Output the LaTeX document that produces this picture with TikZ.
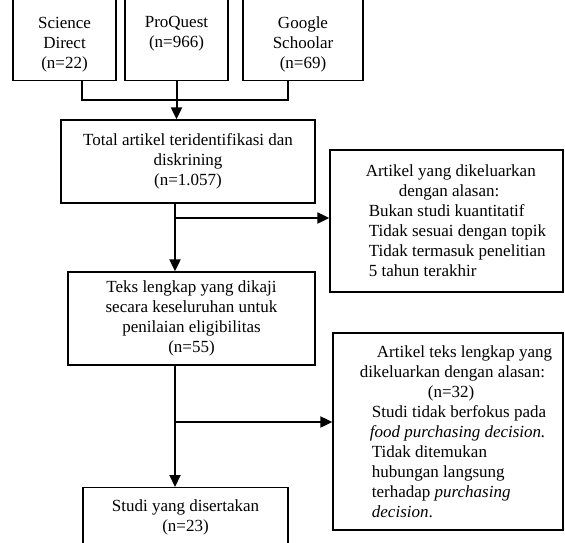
\documentclass[tikz,border=0pt]{standalone}
\usepackage{fontspec}
\setmainfont{Liberation Serif}
\usetikzlibrary{arrows.meta}

\tikzset{
  box/.style={draw, line width=1.3pt, align=center, inner sep=7pt},
  srcbox/.style={box, anchor=south, text height=100pt},
  exbox/.style={box, align=left},
  link/.style={line width=2pt},
  arrow/.style={link, -{Triangle[length=12pt,width=11pt]}},
}

\begin{document}
\begin{tikzpicture}[x=1pt, y=-1pt, font=\fontsize{17}{20}\selectfont]
  \useasboundingbox (0,0) rectangle (565,542);
  \clip (0,0) rectangle (565,542);
  % sources
  \node[srcbox, minimum width=103pt, text depth=5pt] (sd) at (64.5,81) {Science\\Direct\\(n=22)};
  \node[srcbox, minimum width=103pt, text depth=25.5pt] (pq) at (176.5,81) {ProQuest\\(n=966)};
  \node[srcbox, minimum width=120pt, text depth=5pt] (gs) at (303,81) {Google\\Schoolar\\(n=69)};
  % screening
  \node[box, minimum width=254pt, minimum height=83pt] (total) at (188,161.5) {Total artikel teridentifikasi dan\\diskrining\\(n=1.057)};
  \node[exbox, minimum width=233pt, minimum height=142pt] (excl1) at (446.5,221) {%
    \hspace*{19pt}Artikel yang dikeluarkan\\
    \hspace*{52pt}dengan alasan:\\
    \hspace*{22pt}Bukan studi kuantitatif\\
    \hspace*{22pt}Tidak sesuai dengan topik\\
    \hspace*{22pt}Tidak termasuk penelitian\\
    \hspace*{22pt}5 tahun terakhir};
  % eligibility
  \node[box, minimum width=247pt, minimum height=93pt] (teks) at (191.5,318.5) {Teks lengkap yang dikaji\\secara keseluruhan untuk\\penilaian eligibilitas\\(n=55)};
  \node[exbox, minimum width=230pt, minimum height=197pt] (excl2) at (448,431.5) {%
    \hspace*{33pt}Artikel teks lengkap yang\\
    \hspace*{16pt}dikeluarkan dengan alasan:\\
    \hspace*{84pt}(n=32)\\
    \hspace*{28pt}Studi tidak berfokus pada\\
    \hspace*{26pt}\textit{food purchasing decision.}\\
    \hspace*{28pt}Tidak ditemukan\\
    \hspace*{28pt}hubungan langsung\\
    \hspace*{28pt}terhadap \textit{purchasing}\\
    \hspace*{28pt}\textit{decision}.};
  % included
  \node[box, anchor=north, minimum width=205pt, text height=37pt, text depth=60pt] (studi) at (185.5,487) {Studi yang disertakan\\(n=23)};
  % connectors
  \draw[link] ([xshift=17.5pt]sd.south) -- ++(0,19) -| ([xshift=-15pt]gs.south);
  \draw[arrow] (pq.south) -- (pq.south |- total.north);
  \draw[arrow] ([xshift=-13pt]total.south) -- ([xshift=-13pt]total.south |- teks.north);
  \coordinate (cut1) at (175,218);
  \draw[arrow] (cut1) -- (cut1 -| excl1.west);
  \draw[arrow] ([xshift=-16.5pt]teks.south) -- ([xshift=-16.5pt]teks.south |- studi.north);
  \coordinate (cut2) at (175,422);
  \draw[arrow] (cut2) -- (cut2 -| excl2.west);
\end{tikzpicture}
\end{document}
